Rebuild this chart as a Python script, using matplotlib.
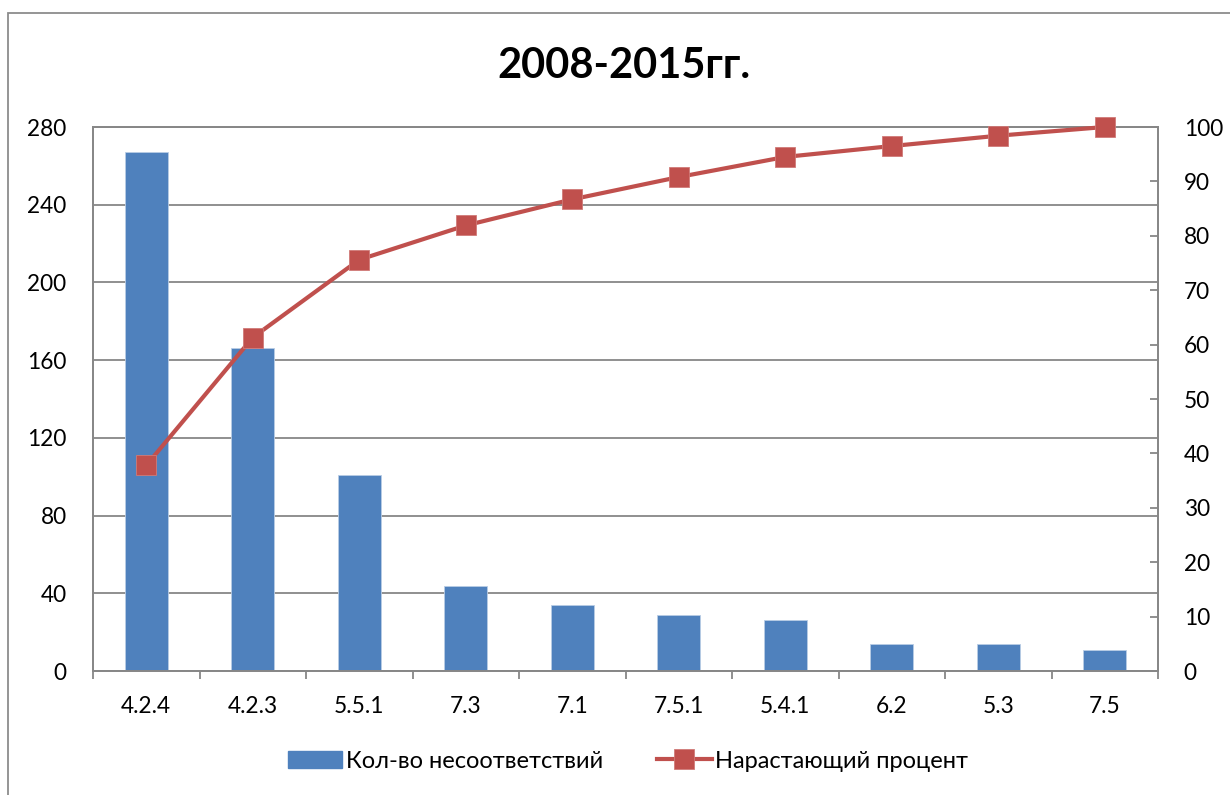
import matplotlib
matplotlib.use("Agg")
import matplotlib.pyplot as plt
from matplotlib.lines import Line2D
from matplotlib.patches import Patch, Rectangle
import numpy as np

categories = ["4.2.4", "4.2.3", "5.5.1", "7.3", "7.1", "7.5.1", "5.4.1", "6.2", "5.3", "7.5"]
counts = [267, 166, 101, 44, 34, 29, 26, 14, 14, 11]
cum_percent = [37.8, 61.3, 75.6, 81.9, 86.7, 90.8, 94.5, 96.5, 98.4, 100.0]
left_ticks = [0, 40, 80, 120, 160, 200, 240, 280]
right_ticks = [0, 10, 20, 30, 40, 50, 60, 70, 80, 90, 100]
title = "2008-2015гг."
bar_label = "Кол-во несоответствий"
line_label = "Нарастающий процент"

plt.rcParams['font.family'] = ['Lato', 'DejaVu Sans']

BAR = "#4F81BD"
LINE = "#C0504D"
GRID = "#878787"
FS = 16.3

W, H = 1230, 795
fig = plt.figure(figsize=(W / 100, H / 100), dpi=100)

# outer chart frame
fig.patches.append(Rectangle((8 / W, -0.05), 1.2, (H - 13) / H + 0.05, transform=fig.transFigure,
                             fill=False, edgecolor="#8C8C8C", linewidth=1.3))

ax = fig.add_axes([93 / W, (H - 671) / H, (1158 - 93) / W, (671 - 127) / H])
x = np.arange(len(categories))
ax.bar(x, counts, width=0.40, color=BAR, edgecolor="#B9CDE5", linewidth=0.6, zorder=2)
ax.set_xlim(-0.5, len(categories) - 0.5)
ax.set_ylim(0, 280)
ax.set_yticks(left_ticks)
ax.set_yticklabels([str(t) for t in left_ticks])
ax.yaxis.grid(True, color=GRID, linewidth=1.3, zorder=0)
ax.set_axisbelow(True)
ax.tick_params(axis='y', length=0, pad=19, labelsize=FS, colors='black')
ax.set_xticks(x)
ax.set_xticklabels(categories)
ax.set_xticks(np.arange(-0.5, len(categories)), minor=True)
ax.tick_params(axis='x', which='major', length=0, pad=18, labelsize=FS)
ax.tick_params(axis='x', which='minor', length=6, width=1.3, color=GRID, direction='out')
for s in ax.spines.values():
    s.set_color(GRID)
    s.set_linewidth(1.3)

ax2 = ax.twinx()
ax2.plot(x, cum_percent, color=LINE, linewidth=3.0, marker='s', markersize=14,
         markerfacecolor=LINE, markeredgecolor="#D07A78", markeredgewidth=0.6, zorder=5, clip_on=False)
ax2.set_ylim(0, 100)
ax2.set_yticks(right_ticks)
ax2.set_yticklabels([str(t) for t in right_ticks])
ax2.tick_params(axis='y', direction='in', length=6, width=1.3, color=GRID, pad=18.5, labelsize=FS)
for s in ax2.spines.values():
    s.set_color(GRID)
    s.set_linewidth(1.3)

fig.text(624 / W, 1 - 66 / H, title, ha='center', va='center', fontsize=30, fontweight='bold')

handles = [Patch(facecolor=BAR, edgecolor=BAR),
           Line2D([0], [0], color=LINE, linewidth=3.0, marker='s', markersize=14,
                  markerfacecolor=LINE, markeredgecolor="#D07A78", markeredgewidth=0.6)]
fig.legend(handles, [bar_label, line_label], loc='center', bbox_to_anchor=(628 / W, 1 - 761 / H),
           ncol=2, frameon=False, fontsize=17, handlelength=2.3, handleheight=0.75,
           handletextpad=0.15, columnspacing=2.3)

fig.savefig("out.png", dpi=100)
